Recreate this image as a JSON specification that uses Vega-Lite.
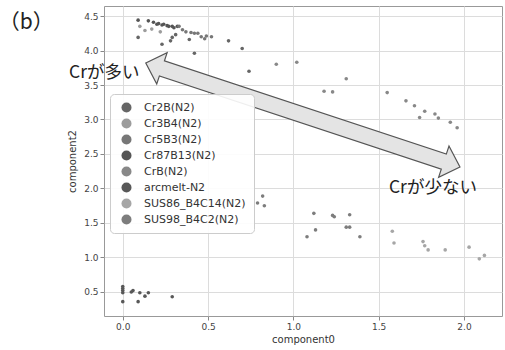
{
  "$schema": "https://vega.github.io/schema/vega-lite/v6.json",
  "width": 398,
  "height": 310,
  "autosize": {"type": "none"},
  "padding": {"left": 104, "top": 6, "right": 3, "bottom": 34},
  "background": "white",
  "config": {
    "font": "DejaVu Sans",
    "view": {"stroke": "#999", "strokeWidth": 1},
    "axis": {
      "gridColor": "#dcdcdc", "gridWidth": 1, "domain": false,
      "tickColor": "#888", "tickSize": 4, "labelPadding": 2,
      "labelFontSize": 9, "labelColor": "#444", "labelOverlap": false,
      "titleFontSize": 10, "titleFontWeight": "normal", "titleColor": "#333"
    }
  },
  "encoding": {
    "x": {"field": "c0", "type": "quantitative", "title": "component0",
          "scale": {"domain": [-0.11, 2.223], "nice": false, "zero": false},
          "axis": {"tickCount": 5, "format": ".1f", "titlePadding": 3, "labelOverlap": false}},
    "y": {"field": "c2", "type": "quantitative", "title": "component2",
          "scale": {"domain": [0.152, 4.645], "nice": false, "zero": false},
          "axis": {"tickCount": 9, "format": ".1f", "titlePadding": 6, "labelOverlap": false, "labelSeparation": 0}}
  },
  "layer": [
    {
      "data": {"values": [
        {"c0": 0.09, "c2": 4.44, "s": "Cr87B13(N2)"},
        {"c0": 0.15, "c2": 4.43, "s": "Cr87B13(N2)"},
        {"c0": 0.18, "c2": 4.41, "s": "Cr87B13(N2)"},
        {"c0": 0.20, "c2": 4.38, "s": "Cr87B13(N2)"},
        {"c0": 0.21, "c2": 4.39, "s": "Cr87B13(N2)"},
        {"c0": 0.23, "c2": 4.37, "s": "Cr87B13(N2)"},
        {"c0": 0.24, "c2": 4.38, "s": "Cr87B13(N2)"},
        {"c0": 0.26, "c2": 4.36, "s": "Cr87B13(N2)"},
        {"c0": 0.27, "c2": 4.35, "s": "Cr87B13(N2)"},
        {"c0": 0.29, "c2": 4.35, "s": "Cr87B13(N2)"},
        {"c0": 0.30, "c2": 4.33, "s": "Cr87B13(N2)"},
        {"c0": 0.32, "c2": 4.35, "s": "Cr87B13(N2)"},
        {"c0": 0.33, "c2": 4.35, "s": "Cr5B3(N2)"},
        {"c0": 0.35, "c2": 4.30, "s": "Cr5B3(N2)"},
        {"c0": 0.37, "c2": 4.27, "s": "Cr5B3(N2)"},
        {"c0": 0.40, "c2": 4.26, "s": "Cr5B3(N2)"},
        {"c0": 0.42, "c2": 4.25, "s": "Cr5B3(N2)"},
        {"c0": 0.44, "c2": 4.25, "s": "Cr5B3(N2)"},
        {"c0": 0.46, "c2": 4.20, "s": "Cr5B3(N2)"},
        {"c0": 0.49, "c2": 4.21, "s": "Cr5B3(N2)"},
        {"c0": 0.52, "c2": 4.20, "s": "Cr5B3(N2)"},
        {"c0": 0.48, "c2": 4.17, "s": "Cr5B3(N2)"},
        {"c0": 0.10, "c2": 4.35, "s": "Cr3B4(N2)"},
        {"c0": 0.13, "c2": 4.29, "s": "Cr3B4(N2)"},
        {"c0": 0.17, "c2": 4.31, "s": "Cr3B4(N2)"},
        {"c0": 0.22, "c2": 4.27, "s": "Cr3B4(N2)"},
        {"c0": 0.09, "c2": 4.19, "s": "Cr2B(N2)"},
        {"c0": 0.31, "c2": 4.23, "s": "Cr2B(N2)"},
        {"c0": 0.29, "c2": 4.19, "s": "Cr2B(N2)"},
        {"c0": 0.28, "c2": 4.14, "s": "Cr2B(N2)"},
        {"c0": 0.23, "c2": 4.09, "s": "Cr2B(N2)"},
        {"c0": 0.39, "c2": 4.16, "s": "Cr2B(N2)"},
        {"c0": 0.62, "c2": 4.14, "s": "Cr2B(N2)"},
        {"c0": 0.70, "c2": 4.03, "s": "Cr2B(N2)"},
        {"c0": 0.42, "c2": 3.96, "s": "Cr2B(N2)"},
        {"c0": 0.74, "c2": 3.70, "s": "Cr2B(N2)"},
        {"c0": 0.90, "c2": 3.80, "s": "CrB(N2)"},
        {"c0": 1.02, "c2": 3.83, "s": "CrB(N2)"},
        {"c0": 1.18, "c2": 3.41, "s": "CrB(N2)"},
        {"c0": 1.23, "c2": 3.40, "s": "CrB(N2)"},
        {"c0": 1.31, "c2": 3.59, "s": "CrB(N2)"},
        {"c0": 1.55, "c2": 3.39, "s": "CrB(N2)"},
        {"c0": 1.66, "c2": 3.27, "s": "CrB(N2)"},
        {"c0": 1.71, "c2": 3.20, "s": "CrB(N2)"},
        {"c0": 1.77, "c2": 3.12, "s": "CrB(N2)"},
        {"c0": 1.74, "c2": 3.03, "s": "CrB(N2)"},
        {"c0": 1.83, "c2": 3.08, "s": "CrB(N2)"},
        {"c0": 1.85, "c2": 3.02, "s": "CrB(N2)"},
        {"c0": 1.92, "c2": 2.96, "s": "CrB(N2)"},
        {"c0": 1.96, "c2": 2.88, "s": "CrB(N2)"},
        {"c0": 0.82, "c2": 1.89, "s": "SUS98_B4C2(N2)"},
        {"c0": 0.79, "c2": 1.79, "s": "SUS98_B4C2(N2)"},
        {"c0": 0.83, "c2": 1.75, "s": "SUS98_B4C2(N2)"},
        {"c0": 1.12, "c2": 1.64, "s": "SUS98_B4C2(N2)"},
        {"c0": 1.23, "c2": 1.61, "s": "SUS98_B4C2(N2)"},
        {"c0": 1.24, "c2": 1.59, "s": "SUS98_B4C2(N2)"},
        {"c0": 1.33, "c2": 1.62, "s": "SUS98_B4C2(N2)"},
        {"c0": 1.31, "c2": 1.44, "s": "SUS98_B4C2(N2)"},
        {"c0": 1.33, "c2": 1.44, "s": "SUS98_B4C2(N2)"},
        {"c0": 1.13, "c2": 1.40, "s": "SUS98_B4C2(N2)"},
        {"c0": 1.08, "c2": 1.30, "s": "SUS98_B4C2(N2)"},
        {"c0": 1.39, "c2": 1.30, "s": "SUS98_B4C2(N2)"},
        {"c0": 1.58, "c2": 1.38, "s": "SUS86_B4C14(N2)"},
        {"c0": 1.59, "c2": 1.21, "s": "SUS86_B4C14(N2)"},
        {"c0": 1.76, "c2": 1.23, "s": "SUS86_B4C14(N2)"},
        {"c0": 1.77, "c2": 1.17, "s": "SUS86_B4C14(N2)"},
        {"c0": 1.79, "c2": 1.11, "s": "SUS86_B4C14(N2)"},
        {"c0": 1.89, "c2": 1.11, "s": "SUS86_B4C14(N2)"},
        {"c0": 2.03, "c2": 1.15, "s": "SUS86_B4C14(N2)"},
        {"c0": 2.09, "c2": 0.98, "s": "SUS86_B4C14(N2)"},
        {"c0": 2.12, "c2": 1.03, "s": "SUS86_B4C14(N2)"},
        {"c0": 0.00, "c2": 0.58, "s": "arcmelt-N2"},
        {"c0": 0.00, "c2": 0.55, "s": "arcmelt-N2"},
        {"c0": 0.00, "c2": 0.52, "s": "arcmelt-N2"},
        {"c0": 0.00, "c2": 0.49, "s": "arcmelt-N2"},
        {"c0": 0.00, "c2": 0.36, "s": "arcmelt-N2"},
        {"c0": 0.05, "c2": 0.50, "s": "arcmelt-N2"},
        {"c0": 0.06, "c2": 0.52, "s": "arcmelt-N2"},
        {"c0": 0.10, "c2": 0.49, "s": "arcmelt-N2"},
        {"c0": 0.09, "c2": 0.36, "s": "arcmelt-N2"},
        {"c0": 0.13, "c2": 0.44, "s": "arcmelt-N2"},
        {"c0": 0.15, "c2": 0.49, "s": "arcmelt-N2"},
        {"c0": 0.29, "c2": 0.43, "s": "arcmelt-N2"}
      ]},
      "mark": {"type": "point", "filled": true, "size": 13, "opacity": 1},
      "encoding": {
        "color": {"field": "s", "type": "nominal",
          "scale": {
            "domain": ["Cr2B(N2)", "Cr3B4(N2)", "Cr5B3(N2)", "Cr87B13(N2)", "CrB(N2)", "arcmelt-N2", "SUS86_B4C14(N2)", "SUS98_B4C2(N2)"],
            "range": ["#666666", "#9c9c9c", "#777777", "#555555", "#888888", "#585858", "#a6a6a6", "#7d7d7d"]
          },
          "legend": {
            "title": null, "orient": "none", "legendX": 6, "legendY": 88,
            "fillColor": "rgba(255,255,255,0.9)", "strokeColor": "#cccccc", "cornerRadius": 4,
            "padding": 8, "symbolSize": 100, "symbolType": "circle", "symbolStrokeWidth": 0,
            "symbolOpacity": 1, "labelFontSize": 11, "labelColor": "#333", "rowPadding": 4,
            "symbolOffset": 3, "labelOffset": 12
          }
        }
      }
    },
    {
      "data": {"values": [
        {"i": 1, "c0": 0.1349, "c2": 3.8188},
        {"i": 2, "c0": 0.2600, "c2": 3.9684},
        {"i": 3, "c0": 0.2443, "c2": 3.8514},
        {"i": 4, "c0": 1.8966, "c2": 2.4990},
        {"i": 5, "c0": 1.9123, "c2": 2.6159},
        {"i": 6, "c0": 1.9765, "c2": 2.3116},
        {"i": 7, "c0": 1.8514, "c2": 2.1620},
        {"i": 8, "c0": 1.8671, "c2": 2.2790},
        {"i": 9, "c0": 0.2148, "c2": 3.6314},
        {"i": 10, "c0": 0.1991, "c2": 3.5145}
      ]},
      "mark": {"type": "line", "interpolate": "linear-closed", "fill": "#e4e4e4", "stroke": "#555555", "strokeWidth": 1.2, "clip": false},
      "encoding": {
        "order": {"field": "i", "type": "quantitative"}
      }
    },
    {
      "data": {"values": [
        {"c0": -0.1085, "c2": 3.667, "t": "Crが多い"},
        {"c0": 1.818, "c2": 2.0, "t": "Crが少ない"}
      ]},
      "mark": {"type": "text", "font": "Noto Sans CJK JP", "fontSize": 17.5, "color": "#222", "align": "center", "baseline": "middle"},
      "encoding": {
        "text": {"field": "t"}
      }
    },
    {
      "data": {"values": [{"c0": -0.566, "c2": 4.399, "t": "（b）"}]},
      "mark": {"type": "text", "font": "Noto Sans CJK JP", "fontSize": 21, "color": "#222", "align": "center", "baseline": "middle"},
      "encoding": {
        "text": {"field": "t"}
      }
    }
  ]
}
